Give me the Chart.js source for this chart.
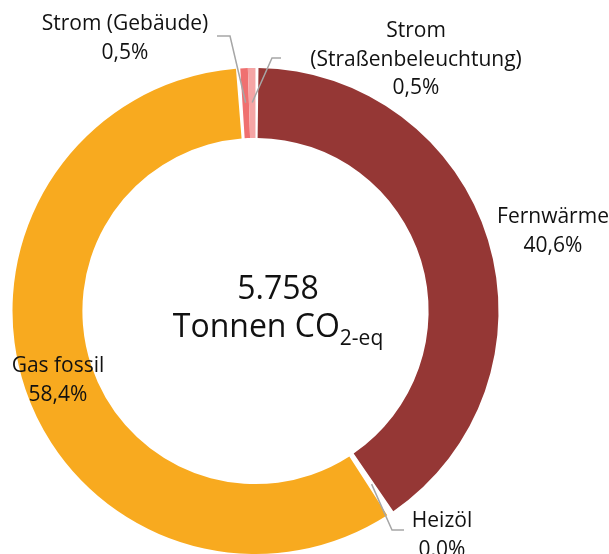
<!DOCTYPE html>
<html>
<head>
<meta charset="utf-8">
<script src="https://cdn.jsdelivr.net/npm/chart.js@4.4.1/dist/chart.umd.min.js"></script>
<style>
  body { margin: 0; background: #fff; }
</style>
</head>
<body>
<canvas id="grafica" width="609" height="554"></canvas>
<script>
var categorias = ['Fernwärme', 'Heizöl', 'Gas fossil', 'Strom (Gebäude)', 'Strom (Straßenbeleuchtung)']
var anteile = [40.6, 0.0, 58.4, 0.5, 0.5]
var farben = ['#953735', '#953735', '#F8AA1F', '#EF7070', '#F5A5A5']
var gesamt = '5.758'
var einheit = 'Tonnen CO'
var einheit_sub = '2-eq'

// wo die Beschriftungen stehen (Mitte x, erste Grundlinie) und Knick der Fuehrungslinie
var etiketten = [
    { x: 553, y: 223, teilen: false, linie: null },
    { x: 442, y: 527, teilen: false, linie: [[404, 530], [392, 530]] },
    { x: 58, y: 372, teilen: false, linie: null },
    { x: 125, y: 30, teilen: false, linie: [[217, 36], [230, 36]] },
    { x: 416, y: 37, teilen: true, linie: [[281, 58], [272, 58]] }
]

var schrift = '"Open Sans", sans-serif'

function prozent(v) {
    return v.toFixed(1).replace('.', ',') + '%'
}

var beschriftung = {
    id: 'beschriftung',
    afterDraw: function (chart) {
        var ctx = chart.ctx
        var arcs = chart.getDatasetMeta(0).data
        ctx.save()
        // Fuehrungslinien
        ctx.strokeStyle = '#A6A6A6'
        ctx.lineWidth = 1.5
        etiketten.forEach(function (e, i) {
            if (!e.linie) return
            var a = arcs[i]
            var mitte = (a.startAngle + a.endAngle) / 2
            var r = a.outerRadius * 0.865
            ctx.beginPath()
            ctx.moveTo(e.linie[0][0], e.linie[0][1])
            ctx.lineTo(e.linie[1][0], e.linie[1][1])
            ctx.lineTo(a.x + Math.cos(mitte) * r, a.y + Math.sin(mitte) * r)
            ctx.stroke()
        })
        // Texte
        ctx.fillStyle = '#111'
        ctx.textAlign = 'center'
        ctx.textBaseline = 'alphabetic'
        ctx.font = '21px ' + schrift
        etiketten.forEach(function (e, i) {
            var zeilen = e.teilen ? categorias[i].split(' ') : [categorias[i]]
            zeilen.push(prozent(anteile[i]))
            zeilen.forEach(function (z, k) {
                ctx.fillText(z, e.x, e.y + k * 28.5)
            })
        })
        // Mitte
        var cx = 278
        ctx.font = '32px ' + schrift
        ctx.fillText(gesamt, cx, 299)
        var w1 = ctx.measureText(einheit).width
        ctx.font = '21px ' + schrift
        var w2 = ctx.measureText(einheit_sub).width
        var links = cx - (w1 + w2) / 2
        ctx.textAlign = 'left'
        ctx.font = '32px ' + schrift
        ctx.fillText(einheit, links, 337)
        ctx.font = '21px ' + schrift
        ctx.fillText(einheit_sub, links + w1, 345)
        ctx.restore()
    }
}

var grafica = new Chart(document.getElementById('grafica'), {
    type: 'doughnut',
    data: {
        labels: categorias,
        datasets: [{
            data: anteile,
            backgroundColor: farben,
            borderWidth: 0,
            spacing: 4
        }]
    },
    options: {
        responsive: false,
        animation: false,
        cutout: '71%',
        layout: { padding: { left: 12, right: 110, top: 68, bottom: 0 } },
        plugins: {
            legend: { display: false },
            tooltip: { enabled: false }
        }
    },
    plugins: [beschriftung]
})
</script>
</body>
</html>
